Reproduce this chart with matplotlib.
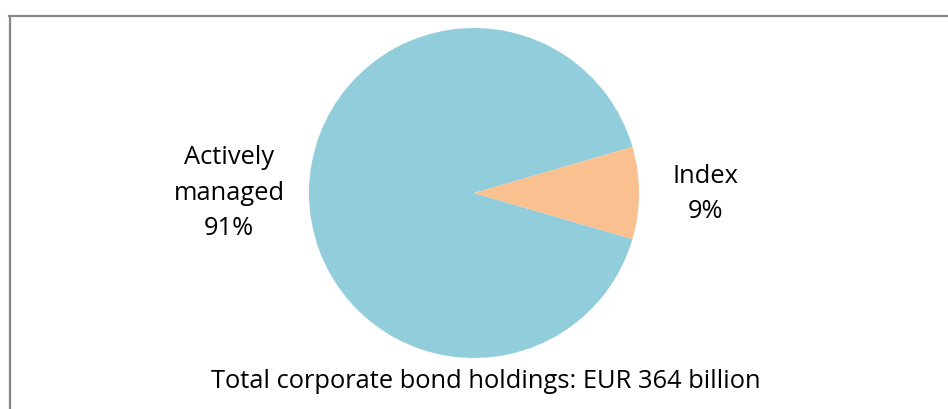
import matplotlib
matplotlib.use("Agg")
import matplotlib.pyplot as plt
from matplotlib.lines import Line2D

categories = ["Actively\nmanaged", "Index"]
values = [91, 9]
colors = ["#92CDDC", "#FAC090"]
footer = "Total corporate bond holdings: EUR 364 billion"

W, H = 948, 409
fig = plt.figure(figsize=(W / 100, H / 100), dpi=100)
ax = fig.add_axes([0, 0, 1, 1])

cx, cy, r = 474, H - 193, 165
total = sum(values)
start = values[1] / total * 360 / 2
ax.pie(values, colors=colors, startangle=start, counterclock=True,
       center=(cx, cy), radius=r, wedgeprops=dict(linewidth=0))
ax.set_xlim(0, W)
ax.set_ylim(0, H)
ax.set_aspect("equal")
ax.axis("off")

font = dict(family=["Open Sans", "DejaVu Sans"], fontsize=18.4, color="#000000")
pcts = [f"{round(v / total * 100)}%" for v in values]
ax.text(229, H - 193, f"{categories[0]}\n{pcts[0]}", ha="center", va="center",
        linespacing=1.55, **font)
ax.text(706, H - 194, f"{categories[1]}\n{pcts[1]}", ha="center", va="center",
        linespacing=1.55, **font)
ax.text(486, H - 381, footer, ha="center", va="center", **font)

fig.add_artist(Line2D([9 / W, 1], [1 - 16 / H, 1 - 16 / H], color="#868686",
                      lw=1.6, transform=fig.transFigure))
fig.add_artist(Line2D([9.5 / W, 9.5 / W], [0, 1 - 16 / H], color="#868686",
                      lw=1.6, transform=fig.transFigure))

fig.savefig("out.png", dpi=100, facecolor="white")
